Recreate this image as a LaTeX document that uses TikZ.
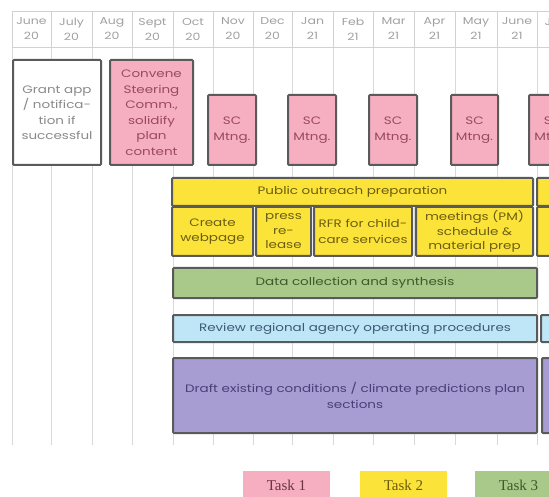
\documentclass[tikz,border=0pt]{standalone}
\usepackage{fontspec}
\setmainfont[FakeStretch=1.25]{Poppins}
\newfontfamily\legfont{Liberation Serif}
\definecolor{pinkf}{HTML}{F5AFC0}
\definecolor{pinkt}{HTML}{9A4A5E}
\definecolor{yelf}{HTML}{FCE33A}
\definecolor{yelt}{HTML}{6B5E10}
\definecolor{grnf}{HTML}{A8C98A}
\definecolor{grnt}{HTML}{3E5A2A}
\definecolor{bluf}{HTML}{BFE6F7}
\definecolor{blut}{HTML}{3D5A75}
\definecolor{purf}{HTML}{A79DD3}
\definecolor{purt}{HTML}{4A3F78}
\definecolor{bord}{HTML}{5A5A5A}
\definecolor{hdrt}{HTML}{8A8A8A}
\newcommand\gbox[7]{%
  \node[#1, minimum width={(#5-#3)*1pt}, minimum height={(#6-#4)*1pt}] (#2) at ({(#3+#5)/2},{(#4+#6)/2}) {#7};}
\tikzset{
  box/.style={draw=bord, line width=2pt, rounded corners=1pt, align=center, inner sep=1pt, font=\fontsize{10.8}{15.5}\selectfont},
  pinkbox/.style={box, fill=pinkf, text=pinkt},
  whitebox/.style={box, fill=white, text=hdrt},
  yelbox/.style={box, fill=yelf, text=yelt},
  grnbox/.style={box, fill=grnf, text=grnt},
  blubox/.style={box, fill=bluf, text=blut},
  purbox/.style={box, fill=purf, text=purt},
  hdr/.style={draw=gray!35, line width=0.6pt, fill=white, align=center, inner sep=0pt, text=hdrt!80, font=\fontsize{10}{15}\selectfont},
  grid/.style={draw=gray!30, line width=0.7pt},
  leg/.style={inner sep=0pt, align=center, font=\legfont\fontsize{15}{17}\selectfont}
}
\begin{document}
\begin{tikzpicture}[x=1pt,y=-1pt]
\useasboundingbox (0,0) rectangle (549,497);
\clip (0,0) rectangle (549,497);
% grid lines
\foreach \b [count=\i] in {12,51,92,132,173,213,253,292,333,373,414,455,497,537}{
  \coordinate (gt\i) at (\b,47);
  \coordinate (gb\i) at (\b,445);
  \draw[grid] (gt\i) -- (gb\i);
}
% header cells
\foreach \a/\b/\m/\y [count=\i] in {12/51/June/20,51/92/July/20,92/132/Aug/20,132/173/Sept/20,173/213/Oct/20,213/253/Nov/20,253/292/Dec/20,292/333/Jan/21,333/373/Feb/21,373/414/Mar/21,414/455/Apr/21,455/497/May/21,497/537/June/21,537/577/July/21}{
  \gbox{hdr}{h\i}{\a}{11}{\b}{47}{\m\\\y}
}
% task 1 boxes
\gbox{whitebox}{grant}{13}{60}{101}{165}{Grant app\\/ notifica-\\tion if\\successful}
\gbox{pinkbox}{convene}{110}{60}{193}{165}{Convene\\Steering\\Comm.,\\solidify\\plan\\content}
\gbox{pinkbox}{sc1}{208}{95}{256}{165}{SC\\Mtng.}
\gbox{pinkbox}{sc2}{288}{95}{336}{165}{SC\\Mtng.}
\gbox{pinkbox}{sc3}{369}{95}{417}{165}{SC\\Mtng.}
\gbox{pinkbox}{sc4}{451}{95}{498}{165}{SC\\Mtng.}
\gbox{pinkbox}{sc5}{529}{95}{577}{165}{SC\\Mtng.}
% task 2 boxes
\gbox{yelbox}{outreach}{172}{178}{533}{206}{Public outreach preparation}
\gbox{yelbox}{outreach2}{537}{178}{700}{206}{}
\gbox{yelbox}{web}{172}{207}{253}{256}{Create\\webpage}
\gbox{yelbox, font=\fontsize{10.8}{14.5}\selectfont}{press}{256}{207}{311}{256}{press\\re-\\lease}
\gbox{yelbox}{rfr}{314}{207}{412}{256}{RFR for child-\\care services}
\gbox{yelbox, font=\fontsize{10.8}{14.5}\selectfont}{meet}{416}{207}{533}{256}{meetings (PM)\\schedule \&\\material prep}
\gbox{yelbox}{next2}{537}{207}{620}{256}{}
% task 3
\gbox{grnbox}{data}{173}{268}{537}{298}{Data collection and synthesis}
% blue
\gbox{blubox}{review}{173}{315}{537}{342}{Review regional agency operating procedures}
\gbox{blubox}{review2}{541}{315}{700}{342}{}
% purple
\gbox{purbox}{draft}{173}{358}{537}{433}{Draft existing conditions / climate predictions plan\\sections}
\gbox{purbox}{draft2}{542}{358}{700}{433}{}
% legend
\gbox{leg, fill=pinkf, text=pinkt!70!black}{t1}{243}{471}{330}{500}{Task 1}
\gbox{leg, fill=yelf, text=yelt}{t2}{360}{471}{447}{500}{Task 2}
\gbox{leg, fill=grnf, text=grnt}{t3}{475}{471}{562}{500}{Task 3}
\end{tikzpicture}
\end{document}
